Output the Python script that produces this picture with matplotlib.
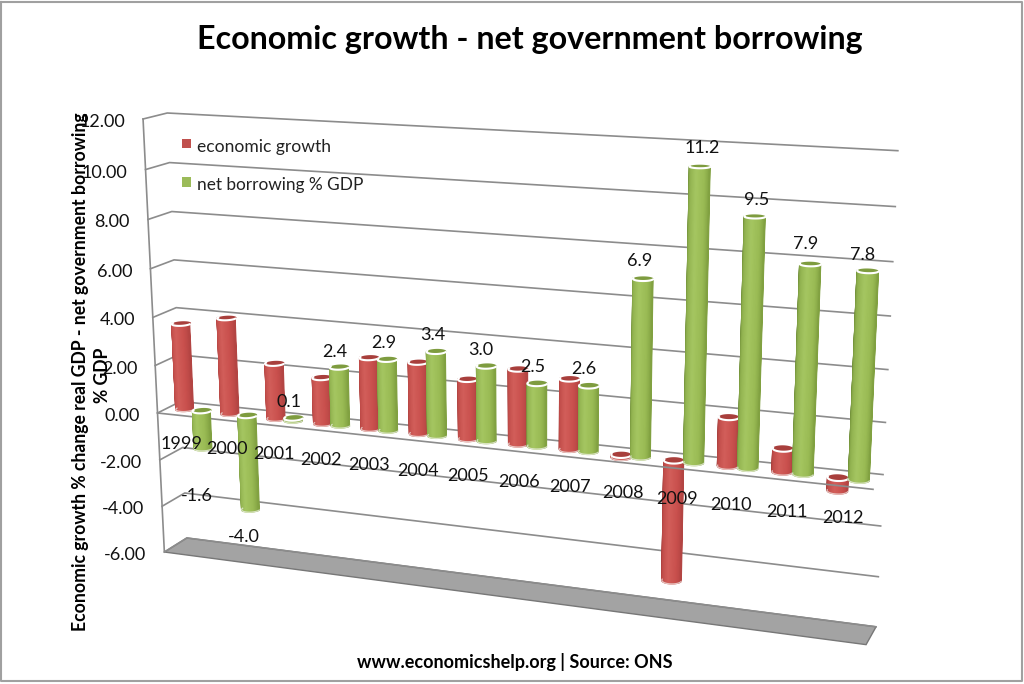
import numpy as np
import matplotlib
matplotlib.use('Agg')
import matplotlib.pyplot as plt
from matplotlib.colors import LinearSegmentedColormap
from matplotlib.patches import Polygon

plt.rcParams['font.family'] = ['Lato', 'DejaVu Sans']

# Values
years = ['1999', '2000', '2001', '2002', '2003', '2004', '2005', '2006', '2007',
         '2008', '2009', '2010', '2011', '2012']
growth = [3.6, 4.0, 2.3, 1.9, 2.9, 2.9, 2.4, 3.0, 2.8, -0.1, -4.8, 1.9, 0.9, -0.5]
borrowing = [-1.6, -4.0, 0.1, 2.4, 2.9, 3.4, 3.0, 2.5, 2.6, 6.9, 11.2, 9.5, 7.9, 7.8]
y_ticks = [12, 10, 8, 6, 4, 2, 0, -2, -4, -6]

# Pixel offset of each value label from the end of its bar
label_dx = [-7, -7, -5, -5, -4, -4, -6, -5, -5, -4, 2, 2, -5, -5]
label_dy = [48, 28, -16, -15, -16, -16, -16, -16, -17, -18, -18, -16, -20, -16]

# Calibration of the 3D view: (category, value, depth) -> picture pixel
calib = [((0, 12, 0), (143, 119)), ((0, -6, 0), (164, 552)), ((0, 0, 0), (158, 413)),
         ((0, 12, 1), (167, 113)), ((0, -6, 1), (187, 538)),
         ((14, 12, 1), (898, 151)), ((14, -6, 1), (876, 627)), ((14, 0, 1), (883, 474)),
         ((14, -6, 0), (866, 645)), ((14, 0, 0), (873, 489))]


def fit_view(pairs):
    rows, rhs = [], []
    for (a, b, c), (x, y) in pairs:
        rows.append([a, b, c, 1, 0, 0, 0, 0, -x * a, -x * b, -x * c])
        rhs.append(x)
        rows.append([0, 0, 0, 0, a, b, c, 1, -y * a, -y * b, -y * c])
        rhs.append(y)
    sol = np.linalg.lstsq(np.array(rows, float), np.array(rhs, float), rcond=None)[0]
    return np.append(sol, 1).reshape(3, 4)


view = fit_view(calib)


def project(u, v, w):
    u, v, w = np.broadcast_arrays(u, v, w)
    pts = view @ np.stack([u, v, w, np.ones_like(u, dtype=float)]).astype(float)
    return pts[0] / pts[2], pts[1] / pts[2]


def bar_pos(i, shift):
    # bars sit a little to the right of even spacing at the left of the chart
    return 0.07 + i * 0.995 + shift


def cylinder(ax, center, value, cmap, cap_color, z):
    radius, w_mid, w_rad = 0.18, 0.5, 0.22
    angles = np.linspace(np.pi, 2 * np.pi, 29)
    low, high = min(0, value), max(0, value)
    # strips are painted left to right with a wide edge so no seams show
    for a0, a1 in zip(angles[:-1], angles[1:]):
        t = (0.5 * (a0 + a1) - np.pi) / np.pi
        us = center + radius * np.cos([a0, a1, a1, a0])
        ws = w_mid + w_rad * np.sin([a0, a1, a1, a0])
        xs, ys = project(us, [low, low, high, high], ws)
        ax.fill(xs, ys, facecolor=cmap(t), edgecolor=cmap(t), lw=0.9, zorder=z)
    # rim at the foot of the bar and the flat top
    circle = np.linspace(0, 2 * np.pi, 60)
    cu = center + radius * np.cos(circle)
    cw = w_mid + w_rad * np.sin(circle)
    half = circle[30:]
    xs, ys = project(center + radius * np.cos(half), low, w_mid + w_rad * np.sin(half))
    ax.plot(xs, ys, color='#f4f4f0', lw=0.9, alpha=0.7, zorder=z + 0.1)
    xs, ys = project(cu, high, cw)
    ax.add_patch(Polygon(np.column_stack([xs, ys]), closed=True, facecolor=cap_color,
                         edgecolor='none', zorder=z + 0.2))
    xs, ys = project(center + radius * np.cos(half), high, w_mid + w_rad * np.sin(half))
    ax.plot(xs, ys, color='white', lw=1.5, zorder=z + 0.3)


fig = plt.figure(figsize=(10.24, 6.84), dpi=100)
ax = fig.add_axes([0, 0, 1, 1])
ax.set_xlim(0, 1024)
ax.set_ylim(684, 0)
ax.axis('off')

# chart frame
ax.plot([1, 1, 1022, 1022, 1], [2, 681, 681, 2, 2], color='#a0a0a0', lw=1.5, zorder=1)

# floor of the chart
floor = np.column_stack(project([0, 0, 14, 14], -6, [0, 1, 1, 0]))
ax.add_patch(Polygon(floor, closed=True, facecolor='#a3a3a3', edgecolor='#777777', lw=1, zorder=2))

# side wall edge and gridlines
grid = '#8c8c8c'
xs, ys = project(0, [12, -6], 0)
ax.plot(xs, ys, color=grid, lw=1.2, zorder=2)
for tick in y_ticks:
    xs, ys = project([0, 0, 14], tick, [0, 1, 1])
    ax.plot(xs, ys, color=grid, lw=1.2, zorder=2)
    x0, y0 = project(0, tick, 0)
    ax.text(float(x0) - 18, float(y0) + 3, f'{tick:.2f}', ha='right', va='center',
            fontsize=13, color='#111111', zorder=9)

red_map = LinearSegmentedColormap.from_list('r', ['#943633', '#c04c49', '#d25e5a', '#c9504d', '#b24442'])
green_map = LinearSegmentedColormap.from_list('g', ['#5f7d2c', '#8fb04e', '#a5c661', '#9abb54', '#7f9f40'])

for i, value in enumerate(growth):
    cylinder(ax, bar_pos(i, 0.29), value, red_map, '#a83f3c', 4)

# the zero line runs in front of the red bars but behind the green ones
xs, ys = project([0, 14], 0, 0)
ax.plot(xs, ys, color=grid, lw=1.2, zorder=5)

for i, value in enumerate(borrowing):
    cylinder(ax, bar_pos(i, 0.66), value, green_map, '#7e9c3f', 6)
    x0, y0 = project(bar_pos(i, 0.66), value, 0.5)
    ax.text(float(x0) + label_dx[i], float(y0) + label_dy[i], f'{value:.1f}', ha='center',
            va='center', fontsize=13, color='#111111', zorder=9)

for i, year in enumerate(years):
    x0, y0 = project(i + 0.5, -1.15, 0)
    ax.text(float(x0), float(y0) + 1.5, year, ha='center', va='center', fontsize=13,
            color='#111111', zorder=9)

# legend
ax.add_patch(Polygon([(182, 139), (191, 139), (191, 148), (182, 148)], facecolor='#c0504d', zorder=8))
ax.add_patch(Polygon([(182, 177), (191, 177), (191, 187), (182, 187)], facecolor='#9bbb59', zorder=8))
ax.text(197, 147, 'economic growth', va='center', fontsize=12.6, color='#222222', zorder=9)
ax.text(197, 185, 'net borrowing % GDP', va='center', fontsize=12.4, color='#222222', zorder=9)

# titles
ax.text(529.5, 40, 'Economic growth - net government borrowing', ha='center', va='center',
        fontsize=23.2, fontweight='bold', color='black')
ax.text(515, 662, 'www.economicshelp.org | Source: ONS', ha='center', va='center',
        fontsize=13, fontweight='bold', color='black')
ax.text(81, 372, 'Economic growth % change real GDP - net government borrowing', rotation=90,
        ha='center', va='center', fontsize=12.7, fontweight='bold', color='black', zorder=10)
ax.text(103, 375, '% GDP', rotation=90, ha='center', va='center', fontsize=12.7,
        fontweight='bold', color='black', zorder=10)

fig.savefig('out.png', dpi=100)
